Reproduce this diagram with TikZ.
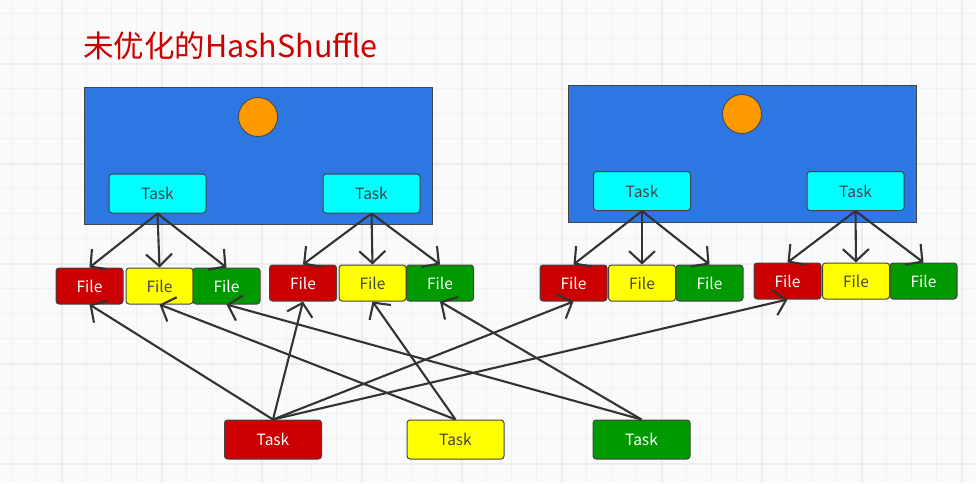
\documentclass[tikz,border=0pt]{standalone}
\usepackage{fontspec}
\setmainfont{Noto Sans CJK SC}
\usepackage{xcolor}
\usetikzlibrary{arrows.meta}

\definecolor{bgcol}{RGB}{250,250,250}
\definecolor{gridminor}{RGB}{241,241,241}
\definecolor{gridmajor}{RGB}{236,236,236}
\definecolor{execblue}{RGB}{44,119,225}
\definecolor{dotorange}{RGB}{255,153,0}
\definecolor{taskcyan}{RGB}{0,255,255}
\definecolor{filered}{RGB}{204,0,0}
\definecolor{fileyellow}{RGB}{255,255,0}
\definecolor{filegreen}{RGB}{0,153,0}
\definecolor{edgegrey}{RGB}{68,68,68}
\definecolor{arrowgrey}{RGB}{51,51,51}

\tikzset{
  exec/.style={draw=edgegrey, line width=1pt, fill=execblue, minimum width=348pt, minimum height=137pt, inner sep=0pt},
  dot/.style={circle, draw=edgegrey, line width=0.8pt, fill=dotorange, minimum size=39pt, inner sep=0pt},
  taskbox/.style={draw=edgegrey, line width=1pt, rounded corners=3pt, minimum width=97pt, minimum height=39pt, inner sep=0pt, font=\fontsize{15.5}{17}\selectfont},
  filebox/.style={draw=edgegrey, line width=1pt, rounded corners=3pt, minimum width=67pt, minimum height=36pt, inner sep=0pt, font=\fontsize{15.5}{17}\selectfont},
  redfile/.style={filebox, fill=filered, text=white},
  yellowfile/.style={filebox, fill=fileyellow, text=edgegrey},
  greenfile/.style={filebox, fill=filegreen, text=white},
  arr/.style={draw=arrowgrey, line width=2.1pt, -{Straight Barb[length=12pt,width=26pt,line width=2.1pt]}}
}

\begin{document}
\begin{tikzpicture}[x=1pt,y=-1pt]
                \useasboundingbox (0,0) rectangle (976,483);
                %% background grid
                \fill[bgcol] (0,0) rectangle (976,483);
                \foreach \gx in {11.7,36.7,...,976} {\draw[gridminor, line width=1.3pt] (\gx,0) -- (\gx,483);}
                \foreach \gy in {13.5,38.5,...,483} {\draw[gridminor, line width=1.3pt] (0,\gy) -- (976,\gy);}
                \foreach \gx in {61.7,161.7,...,976} {\draw[gridmajor, line width=2pt] (\gx,0) -- (\gx,483);}
                \foreach \gy in {63.5,163.5,...,483} {\draw[gridmajor, line width=2pt] (0,\gy) -- (976,\gy);}

                %% title
                \node[anchor=base west, inner sep=0pt, text=filered, font=\fontsize{30.5}{33}\selectfont] (title) at (83,57) {未优化的HashShuffle};

                %% executor 1
                \node[exec] (execA) at (258,156) {};
                \node[dot] (dotA) at (258,117) {};
                \node[taskbox, fill=taskcyan, text=edgegrey] (taskA) at (157.5,193.5) {Task};
                \node[taskbox, fill=taskcyan, text=edgegrey] (taskB) at (371.5,193.5) {Task};

                %% executor 2
                \node[exec] (execB) at (742,153.5) {};
                \node[dot] (dotB) at (742,114) {};
                \node[taskbox, fill=taskcyan, text=edgegrey] (taskC) at (642,191) {Task};
                \node[taskbox, fill=taskcyan, text=edgegrey] (taskD) at (855.5,191) {Task};

                %% files
                \node[redfile]    (fileAr) at (89.5,286)  {File};
                \node[yellowfile] (fileAy) at (159.5,286) {File};
                \node[greenfile]  (fileAg) at (226.5,286) {File};

                \node[redfile]    (fileBr) at (303,283)   {File};
                \node[yellowfile] (fileBy) at (372.5,283) {File};
                \node[greenfile]  (fileBg) at (440,283)   {File};

                \node[redfile]    (fileCr) at (573.5,283) {File};
                \node[yellowfile] (fileCy) at (642,283)   {File};
                \node[greenfile]  (fileCg) at (709.5,283) {File};

                \node[redfile]    (fileDr) at (787.5,281) {File};
                \node[yellowfile] (fileDy) at (856,281)   {File};
                \node[greenfile]  (fileDg) at (923.5,281) {File};

                %% reduce tasks
                \node[taskbox, fill=filered, text=white]      (redTask)    at (273,439.5)   {Task};
                \node[taskbox, fill=fileyellow, text=edgegrey] (yellowTask) at (455.5,439.5) {Task};
                \node[taskbox, fill=filegreen, text=white]    (greenTask)  at (641.5,439.5) {Task};

                %% write
                \foreach \t/\f in {taskA/fileA, taskB/fileB, taskC/fileC, taskD/fileD} {
                  \draw[arr] (\t.south) -- (\f r.north);
                  \draw[arr] (\t.south) -- (\f y.north);
                  \draw[arr] (\t.south) -- (\f g.north);
                }

                %% read
                \draw[arr] (redTask.north) -- (fileAr.south);
                \draw[arr] (redTask.north) -- (fileBr.south);
                \draw[arr] (redTask.north) -- (fileCr.south);
                \draw[arr] (redTask.north) -- (fileDr.south);
                \draw[arr] (yellowTask.north) -- (fileAy.south);
                \draw[arr] (yellowTask.north) -- (fileBy.south);
                \draw[arr] (greenTask.north) -- (fileAg.south);
                \draw[arr] (greenTask.north) -- (fileBg.south);

            \end{tikzpicture}
\end{document}
